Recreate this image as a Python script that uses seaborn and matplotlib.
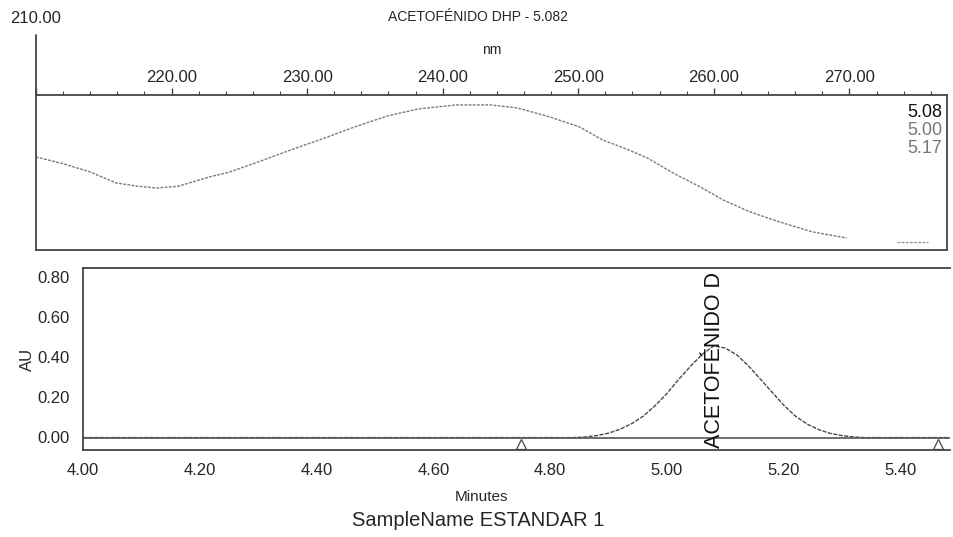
import numpy as np
import pandas as pd
import seaborn as sns
import matplotlib.pyplot as plt
from matplotlib.ticker import MultipleLocator

# spectrum read at the apex (arbitrary absorbance units, normalised)
spec_nm = [210.0, 212.0, 214.0, 215.9, 217.5, 218.9, 220.5, 222.8, 224.3, 226.5,
           229.2, 230.9, 233.5, 235.9, 238.2, 241.0, 243.5, 245.5, 247.9, 250.1,
           251.8, 253.5, 255.1, 257.0, 259.0, 260.7, 262.5, 264.4, 266.0, 267.3,
           269.8]
spec_val = [0.62, 0.575, 0.52, 0.447, 0.425, 0.413, 0.425, 0.487, 0.52, 0.59,
            0.68, 0.733, 0.82, 0.893, 0.94, 0.967, 0.967, 0.947, 0.887, 0.82,
            0.733, 0.675, 0.613, 0.513, 0.42, 0.333, 0.26, 0.2, 0.155, 0.12,
            0.08]
tail_nm = [273.5, 275.8]
tail_val = [0.05, 0.05]
spec_times = ["5.08", "5.00", "5.17"]

# chromatogram peak (minutes, AU)
peak_t = [4.00, 4.84, 4.86, 4.88, 4.90, 4.92, 4.94, 4.96, 4.98, 5.00, 5.02, 5.04,
          5.06, 5.08, 5.10, 5.12, 5.14, 5.16, 5.18, 5.20, 5.22, 5.24, 5.26,
          5.28, 5.30, 5.32, 5.34, 5.485]
peak_au = [-0.003, -0.003, 0.0, 0.007, 0.019, 0.039, 0.067, 0.105, 0.157, 0.217,
           0.287, 0.352, 0.412, 0.455, 0.445, 0.41, 0.355, 0.29, 0.225, 0.16,
           0.105, 0.065, 0.037, 0.018, 0.007, 0.0, -0.003, -0.003]
baseline_t = [4.00, 5.485]
baseline_au = [-0.006, -0.006]
marks_t = [4.75, 5.465]
marks_au = [-0.037, -0.037]
peak_name = "ACETOFÉNIDO D"
peak_rt = 5.082

sns.set_style("white")
plt.rcParams['font.family'] = ['Liberation Sans', 'DejaVu Sans']

fig = plt.figure(figsize=(9.54, 5.37), dpi=100)
ax1 = fig.add_axes([0.0377, 0.5345, 0.955, 0.2886])
ax2 = fig.add_axes([0.087, 0.162, 0.9088, 0.339])

spine_col = '#444444'

# ---- top panel: spectrum
spec = pd.DataFrame({'nm': spec_nm, 'val': spec_val})
sns.lineplot(data=spec, x='nm', y='val', ax=ax1, color='#7a7a7a', lw=1.0,
             linestyle=(0, (2, 1)))
sns.lineplot(x=tail_nm, y=tail_val, ax=ax1, color='#9a9a9a', lw=1.0,
             linestyle=(0, (2, 1)))
ax1.set_xlim(210, 277.2)
ax1.set_ylim(0, 1.033)
ax1.xaxis.tick_top()
ax1.xaxis.set_label_position('top')
ax1.xaxis.set_major_locator(MultipleLocator(10))
ax1.xaxis.set_minor_locator(MultipleLocator(2))
ax1.xaxis.set_major_formatter(lambda v, p: '' if v < 215 else f'{v:.2f}')
ax1.tick_params(axis='x', which='major', direction='out', length=5, width=1,
                color=spine_col, labelsize=12, pad=2)
ax1.tick_params(axis='x', which='minor', direction='out', length=3, width=0.8,
                color=spine_col)
ax1.set_yticks([])
ax1.set_xlabel('nm', fontsize=10, labelpad=12)
ax1.set_ylabel('')
for s in ax1.spines.values():
    s.set_color(spine_col)
    s.set_linewidth(1.3)
ax1.plot([210, 210], [1.033, 1.43], color=spine_col, lw=1.3, clip_on=False)
ax1.text(210, 1.49, '210.00', ha='center', va='bottom', fontsize=12)
clrs = ['#111111', '#777777', '#777777']
for i, (lab, c) in enumerate(zip(spec_times, clrs)):
    ax1.text(0.995, 0.94 - i * 0.115, lab, transform=ax1.transAxes, ha='right',
             va='top', fontsize=13, color=c)

# ---- bottom panel: chromatogram
sns.lineplot(x=peak_t, y=peak_au, ax=ax2, color='#4a4a4a', lw=1.0,
             linestyle=(0, (3, 1)))
sns.lineplot(x=baseline_t, y=baseline_au, ax=ax2, color='#555555', lw=1.2)
ax2.plot(marks_t, marks_au, linestyle='none', marker='^', markersize=7,
         markerfacecolor='white', markeredgecolor='#444444', mew=0.9,
         clip_on=False)
ax2.text(peak_rt, -0.055, peak_name, rotation=90, ha='center', va='bottom',
         fontsize=15.5, color='#111111')
ax2.set_xlim(4.0, 5.485)
ax2.set_ylim(-0.065, 0.845)
ax2.xaxis.set_major_locator(MultipleLocator(0.2))
ax2.xaxis.set_minor_locator(MultipleLocator(0.05))
ax2.xaxis.set_major_formatter(lambda v, p: f'{v:.2f}')
ax2.yaxis.set_major_locator(MultipleLocator(0.2))
ax2.yaxis.set_minor_locator(MultipleLocator(0.04))
ax2.yaxis.set_major_formatter(lambda v, p: f'{v:.2f}')
ax2.tick_params(axis='both', which='major', direction='out', length=6, width=1,
                color=spine_col, labelsize=12)
ax2.tick_params(axis='both', which='minor', direction='out', length=3, width=0.8,
                color=spine_col)
ax2.set_xlabel('Minutes', fontsize=11)
ax2.xaxis.set_label_coords(0.46, -0.22)
ax2.set_ylabel('AU', fontsize=12, labelpad=2)
for s in ax2.spines.values():
    s.set_color(spine_col)
    s.set_linewidth(1.3)
ax2.spines['right'].set_visible(False)

fig.text(0.501, 0.968, 'ACETOFÉNIDO DHP - 5.082', ha='center', va='center',
         fontsize=10)
fig.text(0.501, 0.03, 'SampleName ESTANDAR 1', ha='center', va='center',
         fontsize=14.5)

fig.savefig('out.png', dpi=100)
